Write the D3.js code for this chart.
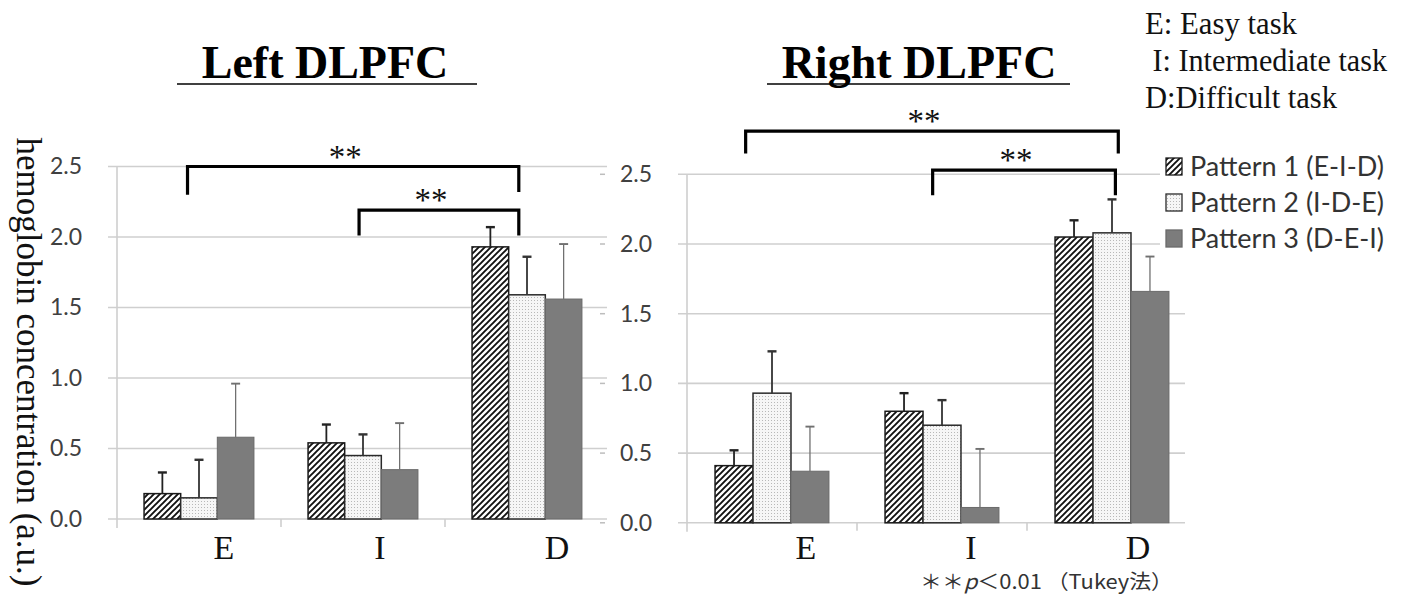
<!DOCTYPE html>
<html>
<head>
<meta charset="utf-8">
<script src="https://cdn.jsdelivr.net/npm/d3@7"></script>
<style>
  body { margin: 0; background: #fff; }
  svg { display: block; }
</style>
</head>
<body>
<div id="chart"></div>
<script>
// categories and series
const categories = ["E", "I", "D"];
const seriesNames = ["Pattern 1 (E-I-D)", "Pattern 2 (I-D-E)", "Pattern 3 (D-E-I)"];
const yTicks = [0, 0.5, 1.0, 1.5, 2.0, 2.5];
const taskNotes = ["E: Easy task", " I: Intermediate task", "D:Difficult task"];

// Left DLPFC means and SD (E, I, D)
const leftP1 = [0.18, 0.54, 1.93];
const leftP2 = [0.15, 0.45, 1.59];
const leftP3 = [0.58, 0.35, 1.56];
const leftSD1 = [0.15, 0.13, 0.14];
const leftSD2 = [0.27, 0.15, 0.27];
const leftSD3 = [0.38, 0.33, 0.39];

// Right DLPFC means and SD (E, I, D)
const rightP1 = [0.41, 0.80, 2.05];
const rightP2 = [0.93, 0.70, 2.08];
const rightP3 = [0.37, 0.11, 1.66];
const rightSD1 = [0.11, 0.13, 0.12];
const rightSD2 = [0.30, 0.18, 0.24];
const rightSD3 = [0.32, 0.42, 0.25];

// significance brackets: from / to category, top level, leg ends (a.u.)
const leftBrackets = [
  { from: "E", to: "D", top: 2.50, legL: 2.30, legR: 2.32 },
  { from: "I", to: "D", top: 2.19, legL: 2.01, legR: 2.01 }
];
const rightBrackets = [
  { from: "E", to: "D", top: 2.81, legL: 2.65, legR: 2.65 },
  { from: "I", to: "D", top: 2.53, legL: 2.35, legR: 2.35 }
];

const svgWidth = 1408;
const svgHeight = 596;
const serif = "'Liberation Serif', 'Times New Roman', serif";
const sans = "Lato, 'Open Sans', sans-serif";

const svg = d3.select("#chart")
  .append("svg")
  .attr("width", svgWidth)
  .attr("height", svgHeight);

// patterns for the bars
const defs = svg.append("defs");
const hatch = defs.append("pattern")
  .attr("id", "hatch")
  .attr("patternUnits", "userSpaceOnUse")
  .attr("width", 6)
  .attr("height", 6);
hatch.append("rect").attr("width", 6).attr("height", 6).attr("fill", "#fff");
hatch.append("path")
  .attr("d", "M-1,1 l2,-2 M0,6 l6,-6 M5,7 l2,-2")
  .attr("stroke", "#111")
  .attr("stroke-width", 1.9);

const dots = defs.append("pattern")
  .attr("id", "dots")
  .attr("patternUnits", "userSpaceOnUse")
  .attr("width", 3)
  .attr("height", 3);
dots.append("rect").attr("width", 3).attr("height", 3).attr("fill", "#f6f6f6");
dots.append("rect").attr("width", 1).attr("height", 1).attr("fill", "#b8b8b8");

const fills = ["url(#hatch)", "url(#dots)", "#7c7c7c"];
const borders = ["#1a1a1a", "#2a2a2a", "#6a6a6a"];
const errColors = ["#222", "#333", "#707070"];
const errWidths = [1.8, 1.8, 1.3];

const panels = [
  {
    title: "Left DLPFC",
    means: [leftP1, leftP2, leftP3],
    sds: [leftSD1, leftSD2, leftSD3],
    brackets: leftBrackets,
    xRange: [117, 609],
    yRange: [519, 166.5],
    gridEnd: 607,
    titleX: 325,
    underline: [177, 477],
    labelDx: [25, 17, 30],
    bracketPos: [[0.43, 0.45], [0.476, 0.45]]
  },
  {
    title: "Right DLPFC",
    means: [rightP1, rightP2, rightP3],
    sds: [rightSD1, rightSD2, rightSD3],
    brackets: rightBrackets,
    xRange: [687, 1197],
    yRange: [522.8, 174.3],
    gridEnd: 1185,
    titleX: 919,
    underline: [767, 1070],
    labelDx: [34, 29, 26],
    bracketPos: [[0.345, 0.537], [0.445, 0.52]]
  }
];

panels.forEach(function(p) {
  const x0 = d3.scaleBand()
    .domain(categories)
    .range(p.xRange);
  const bw = x0.bandwidth();
  const x1 = d3.scaleBand()
    .domain([0, 1, 2])
    .range([bw * 0.165, bw * 0.835]);
  const y = d3.scaleLinear()
    .domain([0, 2.5])
    .range(p.yRange);

  const g = svg.append("g");

  // gridlines
  g.selectAll("line.grid")
    .data(yTicks)
    .enter()
    .append("line")
    .attr("x1", p.xRange[0] - 9)
    .attr("x2", p.gridEnd)
    .attr("y1", d => y(d))
    .attr("y2", d => y(d))
    .attr("stroke", "#cfcfcf")
    .attr("stroke-width", 1.6);

  // vertical axis line and category ticks
  g.append("line")
    .attr("x1", p.xRange[0]).attr("x2", p.xRange[0])
    .attr("y1", y(2.5)).attr("y2", y(0) + 9)
    .attr("stroke", "#cfcfcf")
    .attr("stroke-width", 1.6);
  g.selectAll("line.ctick")
    .data(categories.slice(1))
    .enter()
    .append("line")
    .attr("x1", d => x0(d)).attr("x2", d => x0(d))
    .attr("y1", y(0)).attr("y2", y(0) + 8)
    .attr("stroke", "#cfcfcf")
    .attr("stroke-width", 1.6);

  // y tick labels
  const leftAxis = d3.axisLeft(y)
    .tickValues(yTicks)
    .tickFormat(d3.format(".1f"))
    .tickSize(0)
    .tickPadding(35);
  const yAxis = g.append("g")
    .attr("transform", `translate(${p.xRange[0]}, 0)`)
    .call(leftAxis);
  yAxis.select(".domain").remove();
  yAxis.selectAll("text")
    .attr("font-family", sans)
    .attr("font-size", 23)
    .attr("fill", "#404040");

  // bars
  p.means.forEach(function(vals, s) {
    const bars = g.append("g");
    bars.selectAll("rect")
      .data(categories)
      .enter()
      .append("rect")
      .attr("x", (c) => x0(c) + x1(s))
      .attr("y", (c, i) => y(vals[i]))
      .attr("width", x1.bandwidth())
      .attr("height", (c, i) => y(0) - y(vals[i]))
      .attr("fill", fills[s])
      .attr("stroke", borders[s])
      .attr("stroke-width", s === 2 ? 1 : 1.5);

    // upper error bars
    const eb = g.append("g")
      .attr("stroke", errColors[s])
      .attr("stroke-width", errWidths[s]);
    categories.forEach(function(c, i) {
      const cx = x0(c) + x1(s) + x1.bandwidth() / 2;
      const top = y(vals[i] + p.sds[s][i]);
      eb.append("line")
        .attr("x1", cx).attr("x2", cx)
        .attr("y1", y(vals[i])).attr("y2", top);
      eb.append("line")
        .attr("x1", cx - 4.5).attr("x2", cx + 4.5)
        .attr("y1", top).attr("y2", top)
        .attr("stroke-width", errWidths[s] + 0.6);
    });
  });

  // category labels
  g.selectAll("text.cat")
    .data(categories)
    .enter()
    .append("text")
    .attr("x", (d, i) => x0(d) + bw / 2 + p.labelDx[i])
    .attr("y", 559)
    .attr("text-anchor", "middle")
    .attr("font-family", serif)
    .attr("font-size", 34)
    .attr("fill", "#111")
    .text(d => d);

  // significance brackets
  p.brackets.forEach(function(b, k) {
    const xa = x0(b.from) + bw * p.bracketPos[k][0];
    const xb = x0(b.to) + bw * p.bracketPos[k][1];
    g.append("path")
      .attr("d", `M${xa},${y(b.legL)} V${y(b.top)} H${xb} V${y(b.legR)}`)
      .attr("fill", "none")
      .attr("stroke", "#000")
      .attr("stroke-width", 3.2);
    g.append("text")
      .attr("x", (xa + xb) / 2 - 8)
      .attr("y", y(b.top) + 1)
      .attr("text-anchor", "middle")
      .attr("font-family", serif)
      .attr("font-size", 33)
      .attr("fill", "#111")
      .text("**");
  });

  // panel title with underline
  g.append("text")
    .attr("x", p.titleX)
    .attr("y", 78)
    .attr("text-anchor", "middle")
    .attr("font-family", serif)
    .attr("font-weight", "bold")
    .attr("font-size", 46)
    .attr("fill", "#000")
    .text(p.title);
  g.append("line")
    .attr("x1", p.underline[0]).attr("x2", p.underline[1])
    .attr("y1", 84).attr("y2", 84)
    .attr("stroke", "#000")
    .attr("stroke-width", 1.6);
});

// small leftover tick marks between the two panels
const yRight = d3.scaleLinear().domain([0, 2.5]).range([522.8, 174.3]);
svg.append("g")
  .selectAll("line")
  .data(yTicks)
  .enter()
  .append("line")
  .attr("x1", 600).attr("x2", 605)
  .attr("y1", d => yRight(d))
  .attr("y2", d => yRight(d))
  .attr("stroke", "#bdbdbd")
  .attr("stroke-width", 1.5);

// y axis title
svg.append("text")
  .attr("transform", "translate(17, 362) rotate(90)")
  .attr("text-anchor", "middle")
  .attr("font-family", serif)
  .attr("font-size", 35)
  .attr("fill", "#111")
  .text("hemoglobin concentration (a.u.)");

// legend (white box over the gridlines)
const legend = svg.append("g");
legend.append("rect")
  .attr("x", 1160).attr("y", 148)
  .attr("width", 248).attr("height", 112)
  .attr("fill", "#fff");
seriesNames.forEach(function(name, s) {
  const ly = 158 + s * 36;
  legend.append("rect")
    .attr("x", 1166).attr("y", ly)
    .attr("width", 16).attr("height", 17)
    .attr("fill", fills[s])
    .attr("stroke", borders[s])
    .attr("stroke-width", 1.3);
  legend.append("text")
    .attr("x", 1190)
    .attr("y", ly + 18)
    .attr("font-family", sans)
    .attr("font-size", 26)
    .attr("fill", "#333")
    .attr("textLength", 194)
    .attr("lengthAdjust", "spacingAndGlyphs")
    .text(name);
});

// task abbreviations
const noteWidths = [152, 242, 192];
taskNotes.forEach(function(t, i) {
  svg.append("text")
    .attr("x", 1145)
    .attr("y", 34 + i * 37)
    .attr("font-family", serif)
    .attr("font-size", 31)
    .attr("fill", "#111")
    .attr("textLength", noteWidths[i])
    .attr("lengthAdjust", "spacingAndGlyphs")
    .style("white-space", "pre")
    .text(t);
});

// footnote
const foot = svg.append("text")
  .attr("x", 920)
  .attr("y", 589)
  .attr("font-family", "'Noto Sans CJK JP', sans-serif")
  .attr("font-size", 20)
  .attr("fill", "#333")
  .attr("textLength", 253)
  .attr("lengthAdjust", "spacingAndGlyphs");
foot.append("tspan").text("＊＊");
foot.append("tspan").attr("font-style", "italic").text("p");
foot.append("tspan").text("＜0.01 （Tukey法）");
</script>
</body>
</html>
